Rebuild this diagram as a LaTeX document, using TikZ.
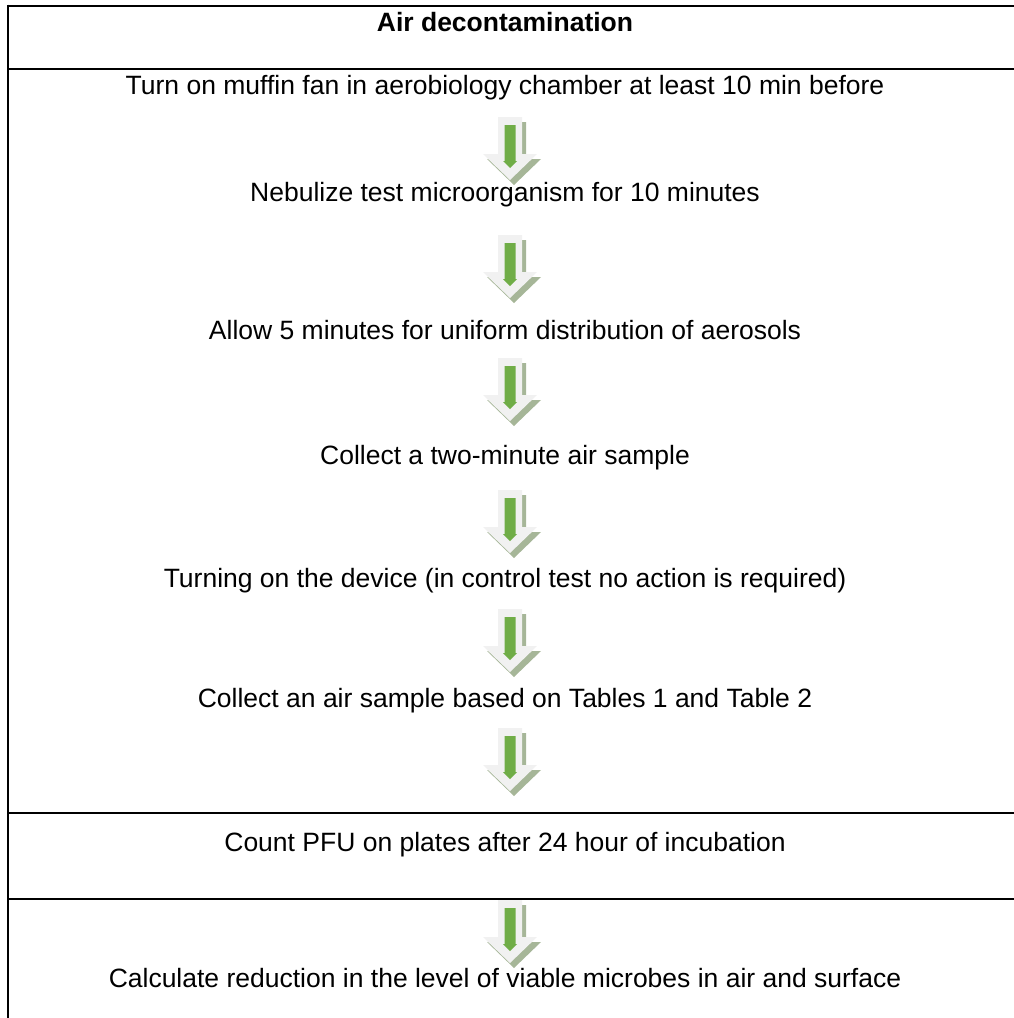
\documentclass[tikz,border=0pt]{standalone}
\usepackage{fontspec}
\setmainfont{Liberation Sans}
\definecolor{shadowc}{HTML}{A6B698}
\definecolor{arrowc}{HTML}{F1F1F1}
\definecolor{greenc}{HTML}{70AD47}
\begin{document}
\begin{tikzpicture}[x=1pt,y=-1pt,
  txt/.style={font=\fontsize{26.5}{30}\selectfont, inner sep=0pt, anchor=base},
  rule/.style={line width=2.8pt},
  flowarrow/.pic={
    \fill[shadowc] (-8,5) -- (16,5) -- (16,42) -- (31,42) -- (4,68) -- (-23,42) -- (-8,42) -- cycle;
    \fill[arrowc] (-12,0) -- (12,0) -- (12,37) -- (27,37) -- (0,63) -- (-27,37) -- (-12,37) -- cycle;
    \fill[greenc] (-5.5,8) -- (5.5,8) -- (5.5,44) -- (7,44) -- (0,51) -- (-7,44) -- (-5.5,44) -- cycle;
  }]
\useasboundingbox (0,0) rectangle (1014,1018);
% table rules
\draw[rule] (8,6) -- (1014,6);
\draw[rule] (8,69) -- (1014,69);
\draw[rule] (8,813) -- (1014,813);
\draw[rule] (8,899) -- (1014,899);
\draw[rule] (8,4.6) -- (8,1018);
% texts
\node[txt, font=\fontsize{26.5}{30}\selectfont\bfseries] (t0) at (505,31) {Air decontamination};
\node[txt] (t1) at (505,94) {Turn on muffin fan in aerobiology chamber at least 10 min before};
\node[txt] (t2) at (505,201) {Nebulize test microorganism for 10 minutes};
\node[txt] (t3) at (505,339) {Allow 5 minutes for uniform distribution of aerosols};
\node[txt] (t4) at (505,464) {Collect a two-minute air sample};
\node[txt] (t5) at (505,587) {Turning on the device (in control test no action is required)};
\node[txt] (t6) at (505,707) {Collect an air sample based on Tables 1 and Table 2};
\node[txt] (t7) at (505,851) {Count PFU on plates after 24 hour of incubation};
\node[txt] (t8) at (505,987) {Calculate reduction in the level of viable microbes in air and surface};
% arrows
\pic (a1) at (510,117) {flowarrow};
\pic (a2) at (510,235) {flowarrow};
\pic (a3) at (510,358) {flowarrow};
\pic (a4) at (510,490) {flowarrow};
\pic (a5) at (510,609) {flowarrow};
\pic (a6) at (510,728) {flowarrow};
\pic (a7) at (510,900) {flowarrow};
\end{tikzpicture}
\end{document}
